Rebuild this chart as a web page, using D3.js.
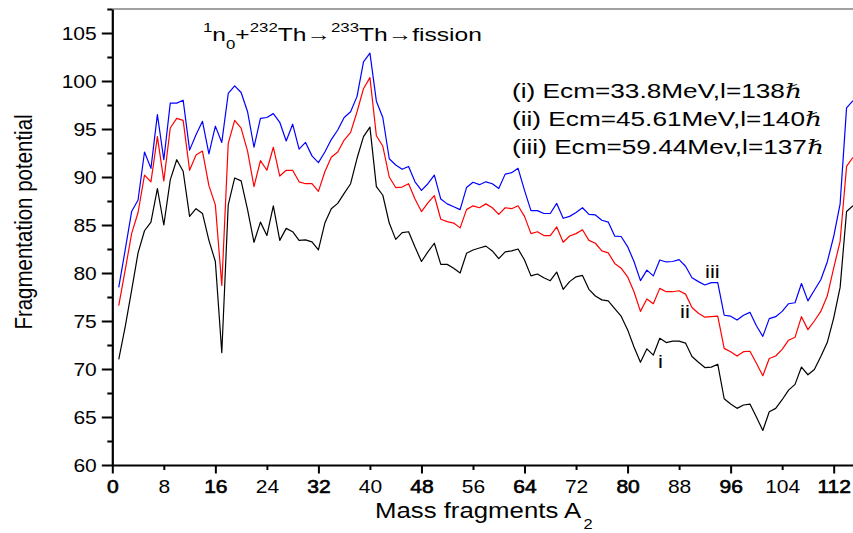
<!DOCTYPE html>
<html><head><meta charset="utf-8">
<script src="https://cdn.jsdelivr.net/npm/d3@7"></script>
<style>
html,body{margin:0;padding:0;background:#fff;}
svg{display:block;font-family:"Liberation Sans",Arial,Helvetica,sans-serif;}
</style></head><body>
<svg id="chart" width="853" height="533"></svg>
<script>
// Mass fragment A2 (x) and fragmentation potential for the three excitation energies
const massFragments = d3.range(1, 116);

const seriesI = [71.0,74.4,78.2,82.1,84.4,85.3,88.8,85.0,89.7,91.8,90.6,85.9,86.7,86.2,83.4,81.2,71.7,87.1,89.9,89.6,
  86.6,83.2,85.3,83.9,87.0,83.4,84.65,84.3,83.4,83.45,83.25,82.4,85.2,86.7,87.25,88.3,89.3,91.95,94.2,95.2,
  89.0,88.1,85.2,83.5,84.2,84.3,82.7,81.2,82.2,83.1,80.9,80.9,80.5,80.0,82.05,82.4,82.6,82.8,82.3,81.5,
  82.2,82.3,82.5,81.35,79.7,79.9,79.5,79.2,80.1,78.3,79.1,79.6,79.75,78.3,77.6,77.2,77.1,76.3,75.5,74.1,
  72.3,70.7,72.1,71.45,73.2,72.75,72.9,72.9,72.7,71.3,70.7,70.15,70.2,70.5,66.9,66.35,65.9,66.25,66.35,65.0,
  63.6,65.55,65.9,66.8,67.8,68.4,70.2,69.4,69.95,71.3,72.75,75.3,78.5,86.4,87.0];

const seriesII = [76.6,80.3,84.1,86.3,90.2,89.5,94.2,89.6,95.1,96.1,95.9,90.7,92.3,92.7,89.1,87.1,78.7,93.5,95.9,95.1,
  92.7,89.0,91.7,90.7,93.1,90.1,90.7,90.7,89.5,89.3,89.3,88.5,90.55,92.05,92.6,93.85,94.65,96.8,99.2,100.35,
  94.3,93.2,90.0,88.9,88.95,89.3,87.7,86.4,87.3,88.05,85.6,85.35,85.2,84.7,86.6,87.0,86.8,87.2,86.8,86.1,
  86.8,86.7,87.0,85.9,84.1,84.3,83.9,83.9,84.8,83.2,83.85,84.1,84.5,83.4,83.1,82.3,82.1,81.0,80.5,79.6,
  78.05,76.0,77.3,76.8,78.4,78.05,78.05,78.15,77.8,76.4,75.8,75.4,75.45,75.5,72.15,71.8,71.35,71.8,71.85,70.6,
  69.3,71.1,71.35,72.05,73.0,73.3,75.45,74.1,75.0,76.0,77.6,80.5,83.3,91.1,92.05];

const seriesIII = [78.5,82.4,86.4,87.6,92.6,90.9,96.5,91.8,97.7,97.7,98.0,92.8,94.4,95.8,92.4,95.3,93.6,98.7,99.5,98.8,
  96.8,93.1,96.1,96.2,96.6,95.7,93.75,95.5,92.9,93.6,92.2,91.5,92.6,93.9,94.9,96.2,96.8,98.4,102.0,102.9,
  97.9,96.2,91.9,91.25,90.8,91.1,89.5,88.6,89.3,90.2,87.7,87.2,86.9,86.6,88.9,89.45,89.2,89.5,89.3,88.8,
  90.3,90.45,90.9,88.6,86.5,86.5,86.2,86.2,87.25,85.7,85.9,86.3,86.8,86.1,86.05,85.5,85.3,83.85,83.8,82.75,
  81.2,79.2,80.3,79.7,81.35,81.15,81.2,81.4,80.7,79.5,79.1,78.75,79.0,79.0,75.6,75.5,75.1,75.6,75.9,74.5,
  73.4,75.25,75.45,76.0,76.8,76.9,78.9,77.1,78.2,79.3,81.15,83.8,87.2,97.2,97.95];

const xTickValues = [0, 8, 16, 24, 32, 40, 48, 56, 64, 72, 80, 88, 96, 104, 112];
const yTickValues = d3.range(60, 107.6, 2.5);
const yLabelValues = [60, 65, 70, 75, 80, 85, 90, 95, 100, 105];

const curveNames = ["i", "ii", "iii"];
const curveColors = ["#000000", "#ff0000", "#0000ff"];
const legendLines = [
  "(i) Ecm=33.8MeV,l=138",
  "(ii) Ecm=45.61MeV,l=140",
  "(iii) Ecm=59.44Mev,l=137"
];

const svg = d3.select("#chart");
svg.append("rect").attr("width", 853).attr("height", 533).attr("fill", "#fff");

const x = d3.scaleLinear().domain([0, 115]).range([112.3, 853]);
const y = d3.scaleLinear().domain([60, 107.5]).range([465, 9]);
const SX = 1.2; // horizontal stretch of the lettering

// top frame
svg.append("line").attr("x1", x(0)).attr("x2", x(115)).attr("y1", y(107.5)).attr("y2", y(107.5))
  .attr("stroke", "#444").attr("stroke-width", 1.2);

// curves
const line = d3.line().x((d, i) => x(massFragments[i])).y(d => y(d));
[seriesI, seriesII, seriesIII].forEach((s, k) => {
  svg.append("path").datum(s).attr("d", line).attr("fill", "none")
    .attr("stroke", curveColors[k]).attr("stroke-width", 1.2).attr("stroke-linejoin", "round");
});

// x axis
const gx = svg.append("g").attr("transform", `translate(0,${y(60)})`)
  .call(d3.axisBottom(x).tickValues(xTickValues).tickSizeOuter(0).tickFormat(d3.format("d")));
gx.select(".domain").attr("stroke", "#000").attr("stroke-width", 2.2);
gx.selectAll(".tick line").attr("stroke", "#000").attr("stroke-width", 2)
  .attr("y2", d => d % 16 === 0 ? 8.5 : 5);
gx.selectAll(".tick text").attr("fill", "#000").attr("font-size", 17.5)
  .attr("stroke", d => d % 16 === 0 ? "#000" : "none").attr("stroke-width", 0.6)
  .attr("y", 28).attr("dy", 0).attr("transform", `scale(${SX},1)`);

// y axis
const gy = svg.append("g").attr("transform", `translate(${x(0)},0)`)
  .call(d3.axisLeft(y).tickValues(yTickValues).tickSizeOuter(0)
    .tickFormat(d => yLabelValues.includes(d) ? d3.format("d")(d) : ""));
gy.select(".domain").attr("stroke", "#000").attr("stroke-width", 2.2);
gy.selectAll(".tick line").attr("stroke", "#000").attr("stroke-width", 2)
  .attr("x2", d => yLabelValues.includes(d) ? -10.5 : -5);
gy.selectAll(".tick text").attr("fill", "#000").attr("font-size", 17.5)
  .attr("x", -13).attr("dy", "0.36em").attr("transform", `scale(${SX},1)`);

// helper: stretched text group, fitted to a given width when asked
function stretchedText(px, py, size, fitWidth) {
  const g = svg.append("g");
  const t = g.append("text").attr("font-size", size).attr("fill", "#000");
  return {g, t, place() {
    let s = SX;
    if (fitWidth) s = fitWidth / t.node().getBBox().width;
    g.attr("transform", `translate(${px},${py}) scale(${s},1)`);
  }};
}

// title
const title = stretchedText(203, 41, 19, 279);
const tt = title.t;
tt.append("tspan").attr("font-size", 13).attr("dy", -9).text("1");
tt.append("tspan").attr("dy", 9).text("n");
tt.append("tspan").attr("font-size", 13).attr("dy", 8).text("0");
tt.append("tspan").attr("dy", -8).text("+");
tt.append("tspan").attr("font-size", 13).attr("dy", -9).text("232");
tt.append("tspan").attr("dy", 9).text("Th\u2192");
tt.append("tspan").attr("font-size", 13).attr("dy", -9).text("233");
tt.append("tspan").attr("dy", 9).text("Th\u2192fission");
title.place();

// legend
const legendWidths = [290, 310, 312];
const legendBase = [98, 126, 153.5];
legendLines.forEach((ln, i) => {
  const L = stretchedText(512, legendBase[i], 19.5, legendWidths[i]);
  L.t.append("tspan").text(ln);
  L.t.append("tspan").attr("font-family", "'DejaVu Serif','Liberation Serif',serif")
    .attr("font-style", "italic").text("\u210F");
  L.place();
});

// curve labels
const labelPos = [[658, 368], [680, 318], [705, 278]];
curveNames.forEach((n, i) => {
  const L = stretchedText(labelPos[i][0], labelPos[i][1], 18.5);
  L.t.text(n);
  L.place();
});

// x axis title
const xt = stretchedText(375, 518, 22, 218);
xt.t.append("tspan").text("Mass fragments A");
xt.t.append("tspan").attr("font-size", 14).attr("dx", 2).attr("dy", 11).text("2");
xt.place();

// y axis title
svg.append("text").attr("font-size", 20.5).attr("fill", "#000").attr("text-anchor", "middle")
  .attr("transform", `translate(32,222) scale(${SX},1) rotate(-90)`)
  .text("Fragmentation potential");
</script>
</body></html>
